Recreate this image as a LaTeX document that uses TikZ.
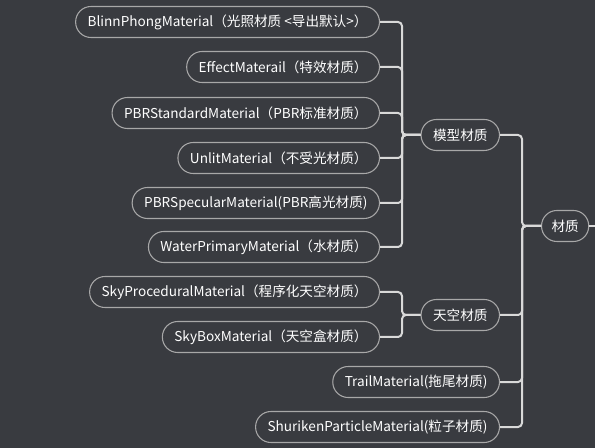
\documentclass[tikz,border=0pt]{standalone}
\usepackage{fontspec}
\setmainfont{Noto Sans CJK SC}
\definecolor{fundo}{HTML}{393B40}
\definecolor{borda}{HTML}{A8A8A8}
\definecolor{linha}{HTML}{D9D9D9}
\begin{document}
\begin{tikzpicture}[x=0.75pt,y=-0.75pt,
  caixa/.style={draw=borda, line width=0.8pt, fill=fundo, rounded corners=11.5pt,
    minimum height=23.25pt, inner xsep=9pt, text=white,
    font=\fontsize{10.2pt}{11pt}\selectfont},
  ligacao/.style={draw=linha, line width=1.5pt, rounded corners=3pt}]

  % fundo
  \useasboundingbox (0,0) rectangle (595,448);
  \fill[fundo] (0,0) rectangle (595,448);

  % raiz e grupos
  \node[caixa, anchor=west, inner xsep=7.5pt] (material) at (541,226) {材质};
  \node[caixa, anchor=east] (modelo) at (500,135) {模型材质};
  \node[caixa, anchor=east] (ceu) at (500,315) {天空材质};
  \node[caixa, anchor=east] (trail) at (500,382) {TrailMaterial(拖尾材质)};
  \node[caixa, anchor=east] (shuriken) at (500,427) {ShurikenParticleMaterial(粒子材质)};

  % materiais de modelo
  \node[caixa, anchor=east] (blinn) at (380,22) {BlinnPhongMaterial（光照材质 <导出默认>）};
  \node[caixa, anchor=east] (effect) at (380,67) {EffectMaterail（特效材质）};
  \node[caixa, anchor=east] (pbrstd) at (380,113) {PBRStandardMaterial（PBR标准材质）};
  \node[caixa, anchor=east] (unlit) at (380,158) {UnlitMaterial（不受光材质）};
  \node[caixa, anchor=east] (pbrspec) at (380,203) {PBRSpecularMaterial(PBR高光材质)};
  \node[caixa, anchor=east] (water) at (380,247) {WaterPrimaryMaterial（水材质）};

  % materiais de céu
  \node[caixa, anchor=east] (skyproc) at (380,292) {SkyProceduralMaterial（程序化天空材质）};
  \node[caixa, anchor=east] (skybox) at (380,337) {SkyBoxMaterial（天空盒材质）};

  % ligações
  \foreach \filho in {blinn,effect,pbrstd,unlit,pbrspec,water}
    \draw[ligacao] (\filho.east) -- ++(22,0) |- (modelo.west);
  \foreach \filho in {skyproc,skybox}
    \draw[ligacao] (\filho.east) -- ++(22,0) |- (ceu.west);
  \foreach \filho in {modelo,ceu,trail,shuriken}
    \draw[ligacao] (\filho.east) -- ++(22,0) |- (material.west);

  % ponta à direita
  \coordinate (borda) at (595,226);
  \draw[ligacao] (material.east) -- (borda);
\end{tikzpicture}
\end{document}
